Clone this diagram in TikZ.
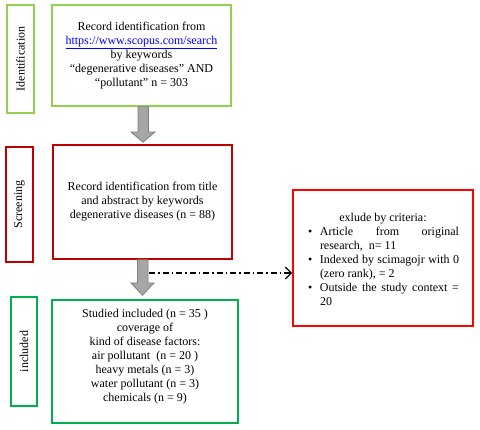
\documentclass[tikz,border=0pt]{standalone}
\usepackage{fontspec}
\setmainfont{Liberation Serif}
\usetikzlibrary{calc,arrows.meta}
\definecolor{lgreen}{HTML}{92D050}
\definecolor{dgreen}{HTML}{00B050}
\definecolor{dred}{HTML}{C00000}
\definecolor{bred}{HTML}{FF0000}
\definecolor{arrfill}{HTML}{A6A6A6}
\definecolor{arrdraw}{HTML}{7F7F7F}
\newcommand\bul{\makebox[13pt][l]{\hspace{1pt}\textbullet}}
\newcommand\jline[1]{\makebox[139pt][s]{#1}}
\tikzset{
  box/.style={draw, line width=1.6pt, inner sep=0pt},
  lab/.style={draw, line width=1.6pt, inner sep=0pt},
  labtext/.style={rotate=90, font=\fontsize{12}{14}\selectfont},
  txt/.style={align=center, font=\fontsize{12}{14}\selectfont},
  fat/.style={draw=arrdraw, fill=arrfill, line width=0.8pt},
  dashdot/.style={line width=1.3pt, dash pattern=on 6pt off 3pt on 1.5pt off 3pt, -{Straight Barb[length=6pt,width=12pt]}}
}
\begin{document}
\begin{tikzpicture}[x=1pt,y=-1pt]
\useasboundingbox (0,0) rectangle (480,430);
% stage labels
\node[lab, draw=lgreen, minimum width=27pt, minimum height=108pt] (l1) at (20.5,59) {};
\node[labtext] at (l1.center) {Identification};
\node[lab, draw=dred, minimum width=27pt, minimum height=115pt] (l2) at (19.5,204.5) {};
\node[labtext] at (l2.center) {Screening};
\node[lab, draw=dgreen, minimum width=26pt, minimum height=109pt] (l3) at (24,351.5) {};
\node[labtext] at (l3.center) {included};
% main boxes
\node[box, draw=lgreen, minimum width=179pt, minimum height=101pt] (b1) at (141.5,55.5) {};
\node[txt] at (b1.center) {Record identification from\\
\textcolor{blue}{\underline{https://www.scopus.com/search}}\\
by keywords\\
“degenerative diseases” AND\\
“pollutant” n = 303};
\node[box, draw=dred, minimum width=179pt, minimum height=114pt] (b2) at (142.5,202) {};
\node[txt] at (b2.center) {Record identification from title\\
and abstract by keywords\\
degenerative diseases (n = 88)};
\node[box, draw=dgreen, minimum width=186pt, minimum height=123pt] (b3) at (145,361.5) {};
\node[txt] at ($(b3.center)+(0,-5)$) {Studied included (n = 35 )\\
coverage of\\
kind of disease factors:\\
air pollutant \ (n = 20 )\\
heavy metals (n = 3)\\
water pollutant (n = 3)\\
chemicals (n = 9)};
\node[box, draw=bred, minimum width=180pt, minimum height=136pt] (b4) at (383,258) {};
\node[align=left, inner sep=0pt, font=\fontsize{12}{14}\selectfont] at ($(b4.center)+(0,1)$) {%
\makebox[152pt][c]{exlude by criteria:}\\
\bul\jline{Article from original}\\
\hspace*{13pt}research, \ n= 11\\
\bul\jline{Indexed by scimagojr with 0}\\
\hspace*{13pt}(zero rank), = 2\\
\bul\jline{Outside the study context =}\\
\hspace*{13pt}20};
% fat arrows
\draw[fat] (138,0 |- b1.south) -- (138,132) -- (131,132) -- ($(143,0 |- b2.north)+(0,-2)$)
  -- (155,132) -- (148.5,132) -- (148.5,0 |- b1.south) -- cycle;
\draw[fat] (137.5,0 |- b2.south) -- (137.5,283) -- (131,283) -- ($(142.5,0 |- b3.north)+(0,-4)$)
  -- (154,283) -- (148,283) -- (148,0 |- b2.south) -- cycle;
% exclusion connector
\coordinate (dd) at (149,273);
\draw[dashdot] (dd) -- (dd -| b4.west);
\end{tikzpicture}
\end{document}
